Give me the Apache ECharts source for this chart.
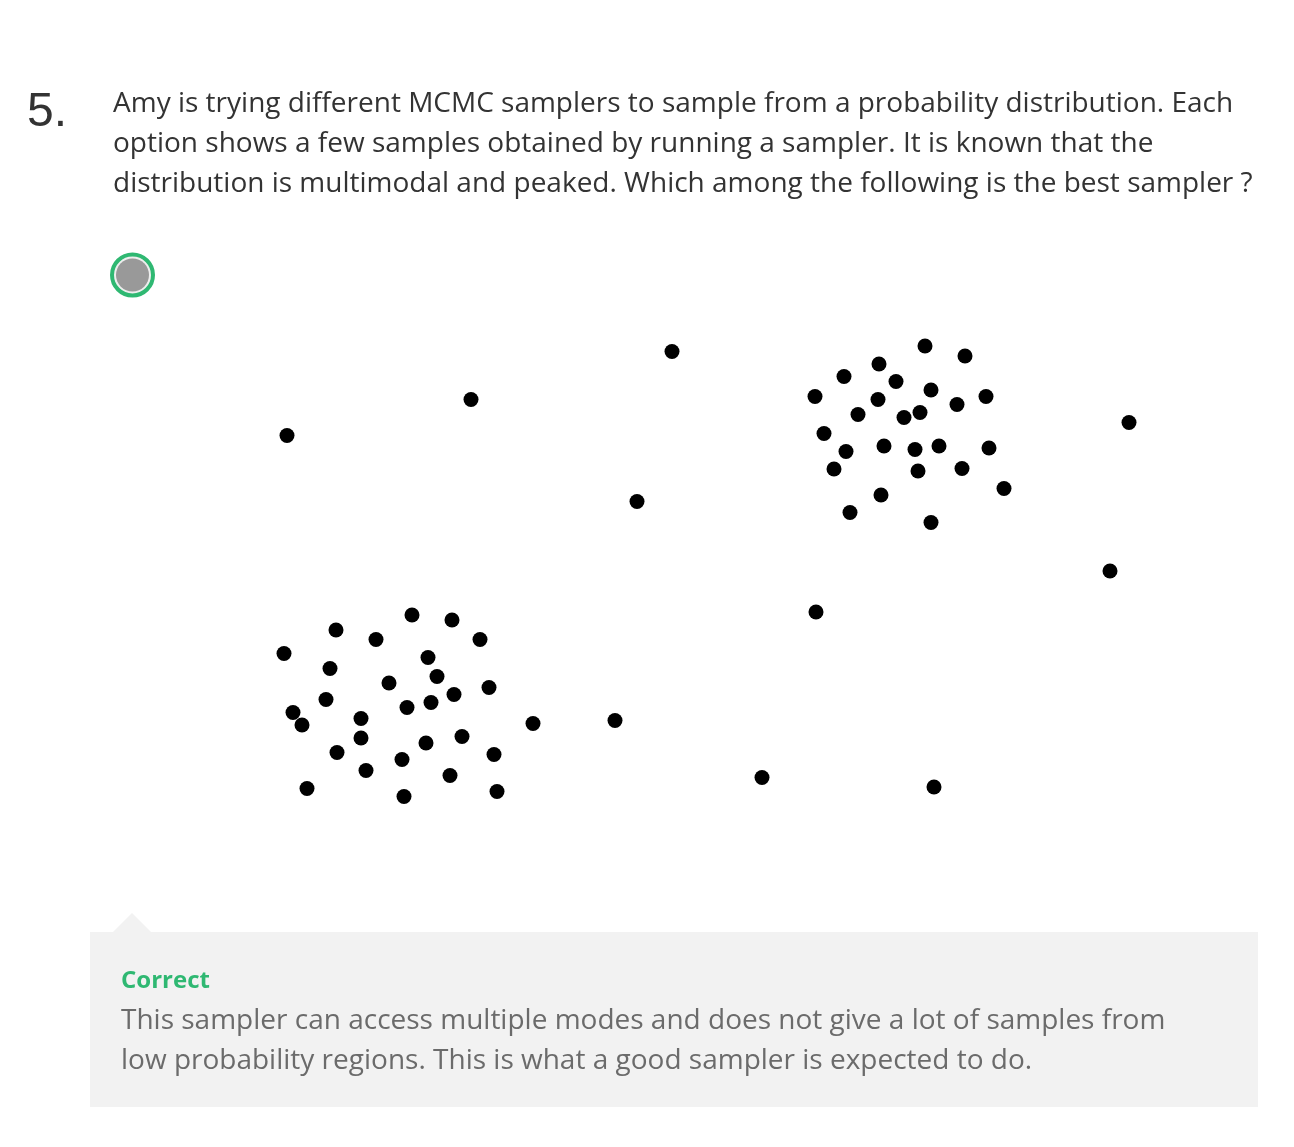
<!DOCTYPE html>
<html>
<head>
<meta charset="utf-8">
<script src="https://cdn.jsdelivr.net/npm/echarts@6/dist/echarts.min.js"></script>
<style>
html,body{margin:0;padding:0;background:#fff;}
#chart{width:1294px;height:1147px;}
</style>
</head>
<body>
<div id="chart"></div>
<script>
// Samples around the lower-left mode
const modeA = [
  [23.2,41.0],[27.2,40.0],[15.6,38.0],[19.6,36.1],[30.0,36.1],[10.4,33.3],
  [24.8,32.5],[15.0,30.3],[25.7,28.7],[20.9,27.4],[30.9,26.5],[27.4,25.1],
  [14.6,24.1],[25.1,23.5],[22.7,22.5],[11.3,21.5],[12.2,19.0],[18.1,20.3],
  [35.3,19.3],[18.1,16.4],[28.2,16.7],[24.6,15.4],[15.7,13.5],[31.4,13.1],
  [22.2,12.1],[18.6,9.9],[27.0,8.9],[12.7,6.3],[22.4,4.7],[31.7,5.7]
];
// Samples around the upper-right mode
const modeB = [
  [74.5,94.8],[78.5,92.8],[69.9,91.2],[66.4,88.7],[71.6,87.7],[75.1,86.0],
  [63.5,84.7],[80.6,84.7],[69.8,84.1],[77.7,83.1],[67.8,81.1],[74.0,81.5],
  [72.4,80.5],[64.4,77.3],[70.4,74.8],[75.9,74.8],[66.6,73.7],[73.5,74.1],
  [80.9,74.4],[65.4,70.2],[73.8,69.8],[78.2,70.3],[82.4,66.3],[70.1,65.0],
  [67.0,61.5],[75.1,59.5]
];
// Samples in low-probability regions
const strays = [
  [10.7,76.9],[29.1,84.1],[49.2,93.7],[45.7,63.7],[94.9,79.5],
  [93.0,49.8],[63.6,41.6],[43.5,19.9],[58.2,8.5],[75.4,6.6]
];

const questionNumber = '5.';
const questionLines = [
  'Amy is trying different MCMC samplers to sample from a probability distribution. Each',
  'option shows a few samples obtained by running a sampler. It is known that the',
  'distribution is multimodal and peaked. Which among the following is the best sampler ?'
];
const feedbackTitle = 'Correct';
const feedbackLines = [
  'This sampler can access multiple modes and does not give a lot of samples from',
  'low probability regions. This is what a good sampler is expected to do.'
];

const chart = echarts.init(document.getElementById('chart'), null, {renderer:'canvas'});
const dot = {symbol:'circle', symbolSize:15, itemStyle:{color:'#000', opacity:1}, silent:true, animation:false};

chart.setOption({
  backgroundColor:'#ffffff',
  animation:false,
  grid:{left:180, top:320, width:1000, height:500, containLabel:false},
  xAxis:{type:'value', min:0, max:100, show:false},
  yAxis:{type:'value', min:0, max:100, show:false},
  series:[
    Object.assign({type:'scatter', name:'modeA', data:modeA}, dot),
    Object.assign({type:'scatter', name:'modeB', data:modeB}, dot),
    Object.assign({type:'scatter', name:'strays', data:strays}, dot)
  ],
  graphic:[
    {type:'text', left:27, top:89, style:{text:questionNumber, font:'48px "Liberation Sans", Arial, sans-serif', fill:'#333'}},
    {type:'text', left:113, top:84, style:{text:questionLines.join('\n'), font:'28px "Open Sans", sans-serif', lineHeight:40, fill:'#333'}},
    {type:'circle', shape:{cx:132.5, cy:275, r:20.5}, style:{fill:'#eeeeee', stroke:'#2fb872', lineWidth:4}},
    {type:'circle', shape:{cx:132.5, cy:275, r:16.5}, style:{fill:'#999999'}},
    {type:'rect', shape:{x:90, y:932, width:1168, height:175}, style:{fill:'#f2f2f2'}},
    {type:'polygon', shape:{points:[[112,933],[132,913],[152,933]]}, style:{fill:'#f2f2f2'}},
    {type:'text', left:121, top:969, style:{text:feedbackTitle, font:'bold 24px "Open Sans", sans-serif', fill:'#2fb872'}},
    {type:'text', left:121, top:1001, style:{text:feedbackLines.join('\n'), font:'28px "Open Sans", sans-serif', lineHeight:40, fill:'#6b6b6b'}}
  ]
});
</script>
</body>
</html>
